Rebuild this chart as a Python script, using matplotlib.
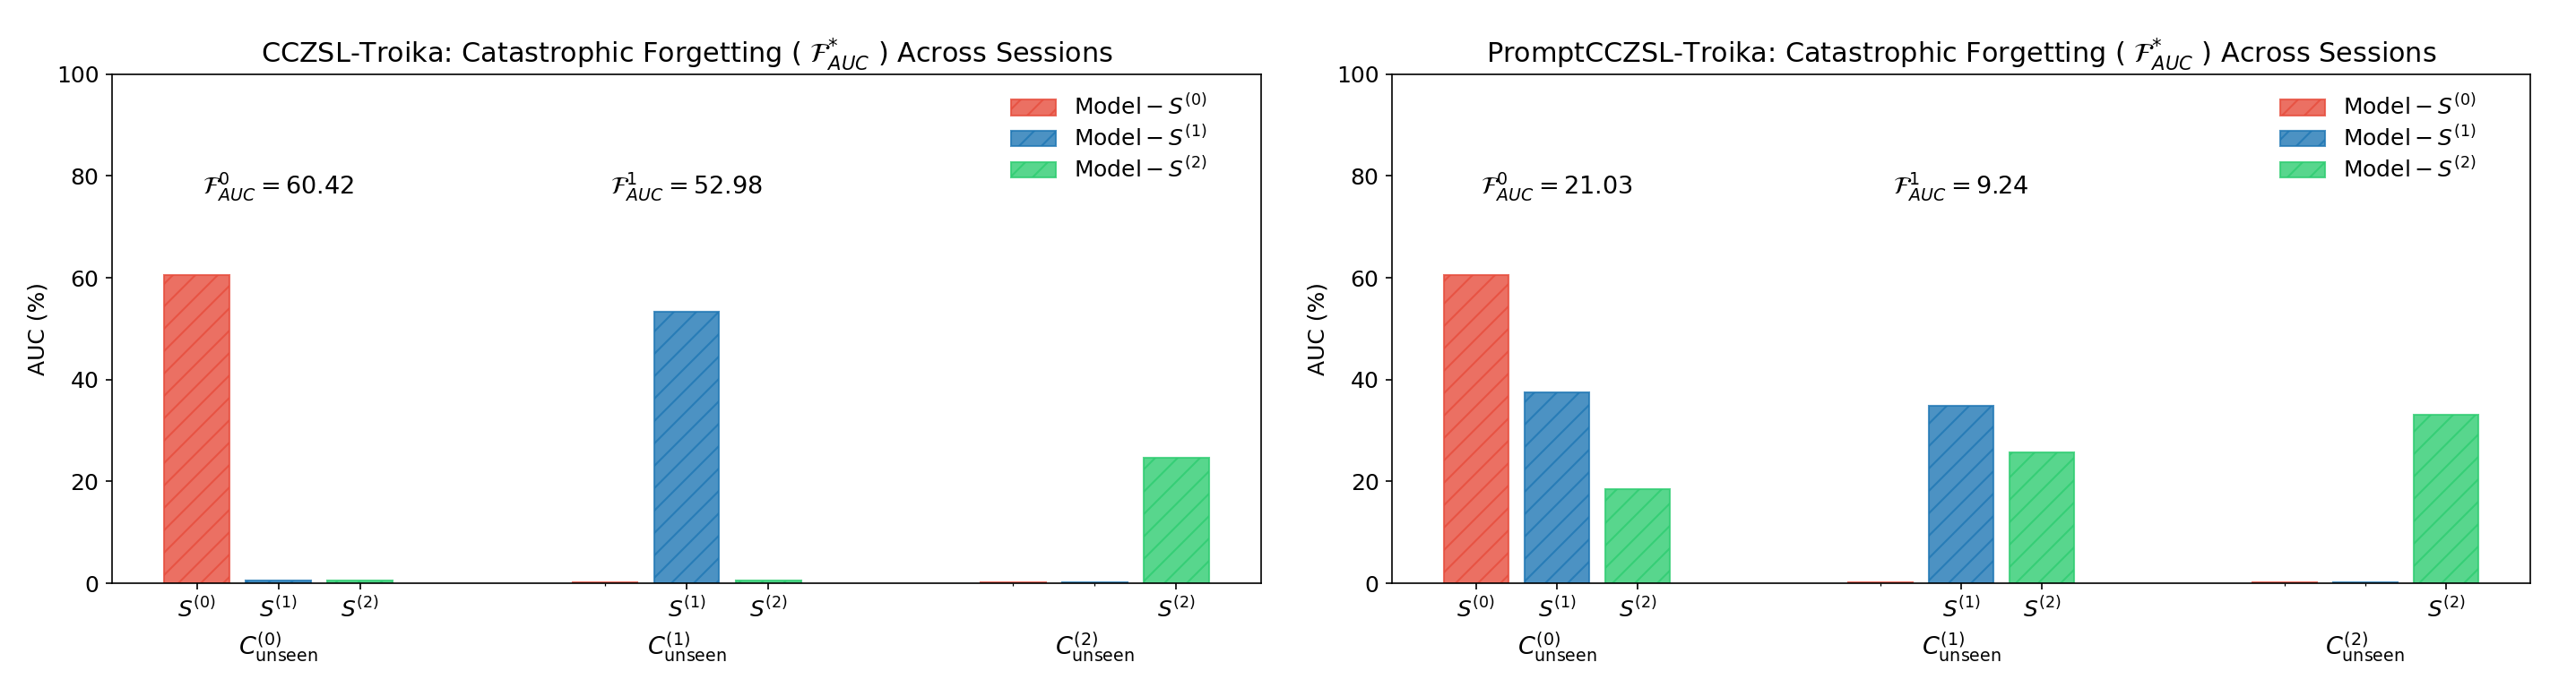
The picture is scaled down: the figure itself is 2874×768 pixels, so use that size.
import numpy as np
import matplotlib
matplotlib.use("Agg")
import matplotlib.pyplot as plt
from matplotlib.transforms import blended_transform_factory

plt.rcParams['font.size'] = 12

# AUC (%) on each unseen split C^(i) for the model after session S^(j)
groups = [r'$C^{(0)}_{\mathrm{unseen}}$', r'$C^{(1)}_{\mathrm{unseen}}$', r'$C^{(2)}_{\mathrm{unseen}}$']
sessions = [r'$S^{(0)}$', r'$S^{(1)}$', r'$S^{(2)}$']
legend_labels = [r'$\mathrm{Model} - S^{(0)}$', r'$\mathrm{Model} - S^{(1)}$', r'$\mathrm{Model} - S^{(2)}$']

# rows = split C^(i), cols = model S^(j)
troika_auc = [[60.62, 0.6, 0.5],
              [0.1, 53.28, 0.5],
              [0.1, 0.1, 24.6]]
prompt_auc = [[60.62, 37.4, 18.56],
              [0.1, 34.9, 25.66],
              [0.1, 0.1, 33.0]]

troika_forget = [60.42, 52.98]
prompt_forget = [21.03, 9.24]

titles = [r'CCZSL-Troika: Catastrophic Forgetting ( $\mathcal{F}^{*}_{AUC}$ ) Across Sessions',
          r'PromptCCZSL-Troika: Catastrophic Forgetting ( $\mathcal{F}^{*}_{AUC}$ ) Across Sessions']

colors = ['#e74c3c', '#1f77b4', '#2ecc71']
width = 0.16
offset = 0.2

fig = plt.figure(figsize=(19.16, 5.12), dpi=150)
ax1 = fig.add_axes([0.0435, 0.1523, 0.4461, 0.7400])
ax2 = fig.add_axes([0.5404, 0.1523, 0.4418, 0.7400])


def draw(ax, auc, forget, title):
    auc = np.array(auc)
    x = np.arange(len(groups))
    for j in range(len(sessions)):
        ax.bar(x + (j - 1) * offset, auc[:, j], width, color=colors[j], alpha=0.8,
               edgecolor=colors[j], linewidth=1, hatch='//', label=legend_labels[j])

    # label only the sessions that have seen the split
    major, labels, minor = [], [], []
    for i in range(len(groups)):
        for j in range(len(sessions)):
            pos = i + (j - 1) * offset
            if j >= i:
                major.append(pos)
                labels.append(sessions[j])
            else:
                minor.append(pos)
    ax.set_xticks(major)
    ax.set_xticklabels(labels)
    ax.set_xticks(minor, minor=True)
    ax.tick_params(axis='x', which='minor', length=1.5)

    trans = blended_transform_factory(ax.transData, ax.transAxes)
    for i, g in enumerate(groups):
        ax.text(i, -0.125, g, transform=trans, ha='center', va='center', fontsize=13)

    for i, f in enumerate(forget):
        ax.text(i, 78, r'$\mathcal{F}^{%d}_{AUC} = %.2f$' % (i, f), ha='center', va='center', fontsize=13)

    ax.set_ylim(0, 100)
    ax.set_ylabel('AUC (%)')
    ax.set_title(title, fontsize=14.5)
    ax.legend(loc='upper right', bbox_to_anchor=(0.97, 1.0), frameon=False,
              fontsize=12, labelspacing=0.25)


draw(ax1, troika_auc, troika_forget, titles[0])
draw(ax2, prompt_auc, prompt_forget, titles[1])

fig.savefig('out.png', dpi=150)
